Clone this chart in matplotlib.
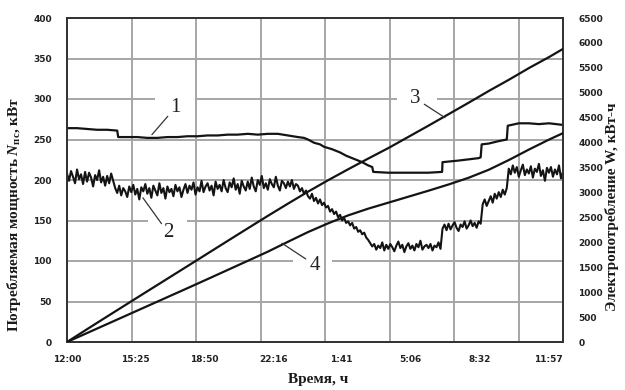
import matplotlib.pyplot as plt
import numpy as np

plt.rcParams['mathtext.fontset'] = 'custom'
plt.rcParams['mathtext.rm'] = 'Liberation Serif:bold'
plt.rcParams['mathtext.it'] = 'Liberation Serif:italic:bold'

# кривая 1 - мощность по расчёту, кВт (время в часах от 12:00)
t1 = [0, 0.5, 1, 1.5, 2, 2.5, 2.55, 3, 3.5, 4, 4.5, 5, 5.5, 6, 6.5, 7, 7.5, 8,
      8.5, 9, 9.5, 10, 10.5, 11, 11.5, 11.8, 12, 12.3, 12.6, 12.8, 13.2, 13.6,
      13.9, 14.3, 14.7, 15.0, 15.2, 15.25, 16, 17, 18, 18.68, 18.7, 19.5, 20.5,
      20.6, 20.65, 21, 21.5, 21.9, 21.95, 22.5, 23, 23.5, 24, 24.7]
n1 = [264, 264, 263, 262, 262, 261, 253, 253, 253, 252, 252, 253, 253, 254,
      254, 255, 255, 256, 256, 257, 256, 257, 257, 255, 253, 252, 250, 246,
      244, 241, 238, 234, 230, 226, 222, 218, 216, 210, 209, 209, 209, 210,
      222, 224, 227, 228, 244, 245, 248, 250, 267, 270, 270, 269, 270, 268]

# кривая 2 - измеренная мощность, кВт, отсчёты через 0.1 ч
n2 = [208, 199, 211, 204, 196, 213, 201, 207, 195, 210,
      198, 209, 203, 192, 206, 200, 212, 197, 204, 193,
      205, 196, 208, 199, 190, 184, 193, 181, 190, 186,
      179, 192, 185, 194, 182, 189, 176, 191, 186, 195,
      183, 190, 178, 193, 187, 181, 196, 184, 190, 177,
      192, 185, 189, 180, 194, 186, 191, 179, 188, 195,
      184, 193, 188, 197, 182, 191, 186, 199, 185, 192,
      196, 187, 193, 181, 198, 189, 194, 186, 200, 190,
      185, 197, 191, 202, 188, 195, 183, 199, 192, 187,
      198, 189, 203, 192, 186, 200, 194, 205, 190, 196,
      188, 201, 195, 191, 204, 193, 187, 199, 196, 190,
      198, 192, 200, 189, 195, 193, 186, 190, 183, 187,
      180, 177, 183, 174, 178, 171, 176, 169, 172, 166,
      168, 161, 164, 158, 161, 154, 157, 150, 153, 147,
      149, 144, 147, 140, 142, 136, 138, 133, 135, 129,
      126, 122, 118, 121, 114, 119, 116, 123, 113, 120,
      115, 121, 117, 112, 119, 124, 116, 120, 111, 118,
      122, 115, 119, 113, 121, 117, 125, 114, 118, 120,
      116, 121, 113, 119, 117, 123, 115, 140, 145, 138,
      146, 139, 144, 148, 141, 137, 145, 142, 149, 140,
      144, 150, 143, 147, 141, 149, 146, 170, 176, 168,
      174, 180, 172, 183, 177, 185, 179, 188, 182, 190,
      214, 207, 218, 209, 216, 204, 212, 219, 206, 213,
      208, 217, 203, 214, 210, 220, 205, 212, 199, 215,
      209, 216, 204, 213, 207, 218, 202, 210]
dt2 = 0.1

# кривые 3 и 4 - электропотребление нарастающим итогом, кВт·ч
tw = [0, 1, 2, 3, 4, 5, 6, 7, 8, 9, 10, 11, 12, 13, 14, 15, 16, 17, 18, 19,
      20, 21, 22, 23, 24, 24.7]
w3 = [0, 257, 512, 765, 1018, 1270, 1522, 1775, 2028, 2280, 2530, 2775, 3015,
      3245, 3465, 3680, 3890, 4115, 4340, 4570, 4800, 5035, 5260, 5495, 5715,
      5880]
w4 = [0, 180, 360, 540, 720, 900, 1080, 1262, 1445, 1628, 1812, 2010, 2205,
      2380, 2540, 2675, 2795, 2915, 3035, 3160, 3295, 3455, 3650, 3860, 4060,
      4190]

# подписи оси времени
xtick_pos = [0, 3.417, 6.833, 10.267, 13.683, 17.1, 20.533, 23.95]
xtick_lbl = ['12:00', '15:25', '18:50', '22:16', '1:41', '5:06', '8:32', '11:57']
vgrid = [3.22, 6.42, 9.66, 12.85, 16.09, 19.27, 22.51]
n_ticks = list(range(0, 401, 50))
w_ticks = list(range(0, 6501, 500))

# разрывы горизонтальной сетки под номерами кривых
grid_gaps = {300: [(4.4, 6.45), (16.43, 18.43)], 150: [(4.03, 5.98)],
             100: [(11.25, 13.2)]}

dark = '#141414'
gridc = '#a6a6a6'
tick_font = dict(family='DejaVu Sans', weight='bold', size=6.5, color='#222222')
label_font = dict(family='Liberation Serif', weight='bold', size=11, color='#1a1a1a')

fig = plt.figure(figsize=(6.25, 3.9), dpi=100)
ax = fig.add_axes([67 / 625, 48 / 390, 496 / 625, 324 / 390])
ax.set_xlim(0, 24.7)
ax.set_ylim(0, 400)

# сетка
for y in n_ticks[1:-1]:
    edges = [0]
    for a, b in grid_gaps.get(y, []):
        edges += [a, b]
    edges.append(24.7)
    for a, b in zip(edges[::2], edges[1::2]):
        ax.hlines(y, a, b, color=gridc, lw=1.4, zorder=0.5)
for x in vgrid:
    ax.axvline(x, color=gridc, lw=1.4, zorder=0.5)

ax.plot(t1, n1, color=dark, lw=1.6, zorder=3)
t2 = np.arange(len(n2)) * dt2
ax.plot(t2, n2, color=dark, lw=1.5, zorder=3)

ax.set_xticks(xtick_pos)
ax.set_xticklabels(xtick_lbl, fontdict=tick_font)
ax.set_yticks(n_ticks)
ax.set_yticklabels([str(v) for v in n_ticks], fontdict=tick_font)
ax.tick_params(axis='both', length=0)
ax.tick_params(axis='x', pad=9)
ax.tick_params(axis='y', pad=11)
for s in ax.spines.values():
    s.set_color('#333333')
    s.set_linewidth(1.3)

ax2 = ax.twinx()
ax2.set_ylim(0, 6500)
ax2.plot(tw, w3, color=dark, lw=1.6, zorder=3)
ax2.plot(tw, w4, color=dark, lw=1.6, zorder=3)
ax2.set_yticks(w_ticks)
ax2.set_yticklabels([str(v) for v in w_ticks], fontdict=tick_font)
ax2.tick_params(axis='y', length=0, pad=11)
for s in ax2.spines.values():
    s.set_color('#333333')
    s.set_linewidth(1.3)

# номера кривых с выносками
marks = [('1', (4.23, 256), (5.38, 289)),
         ('2', (3.78, 178), (5.03, 135)),
         ('3', (18.82, 277), (17.33, 301)),
         ('4', (10.7, 122), (12.35, 95))]
for txt, xy, xyt in marks:
    ax2.annotate(txt, xy=(xy[0], xy[1] * 6500 / 400),
                 xytext=(xyt[0], xyt[1] * 6500 / 400),
                 ha='center', va='center', family='Liberation Serif', size=15,
                 color='#222222',
                 arrowprops=dict(arrowstyle='-', color='#333333', lw=0.9,
                                 patchA=None, shrinkA=8, shrinkB=0))

fig.text(0.022, 0.45, r'Потребляемая мощность $N_{\mathregular{пс}}$, кВт',
         rotation=90, ha='center', va='center', **label_font)
fig.text(0.979, 0.47, 'Электропотребление W, кВт-ч',
         rotation=90, ha='center', va='center', **label_font)
fig.text(0.509, 0.026, 'Время, ч', ha='center', va='center', **label_font)

fig.savefig('out.png', dpi=100)
